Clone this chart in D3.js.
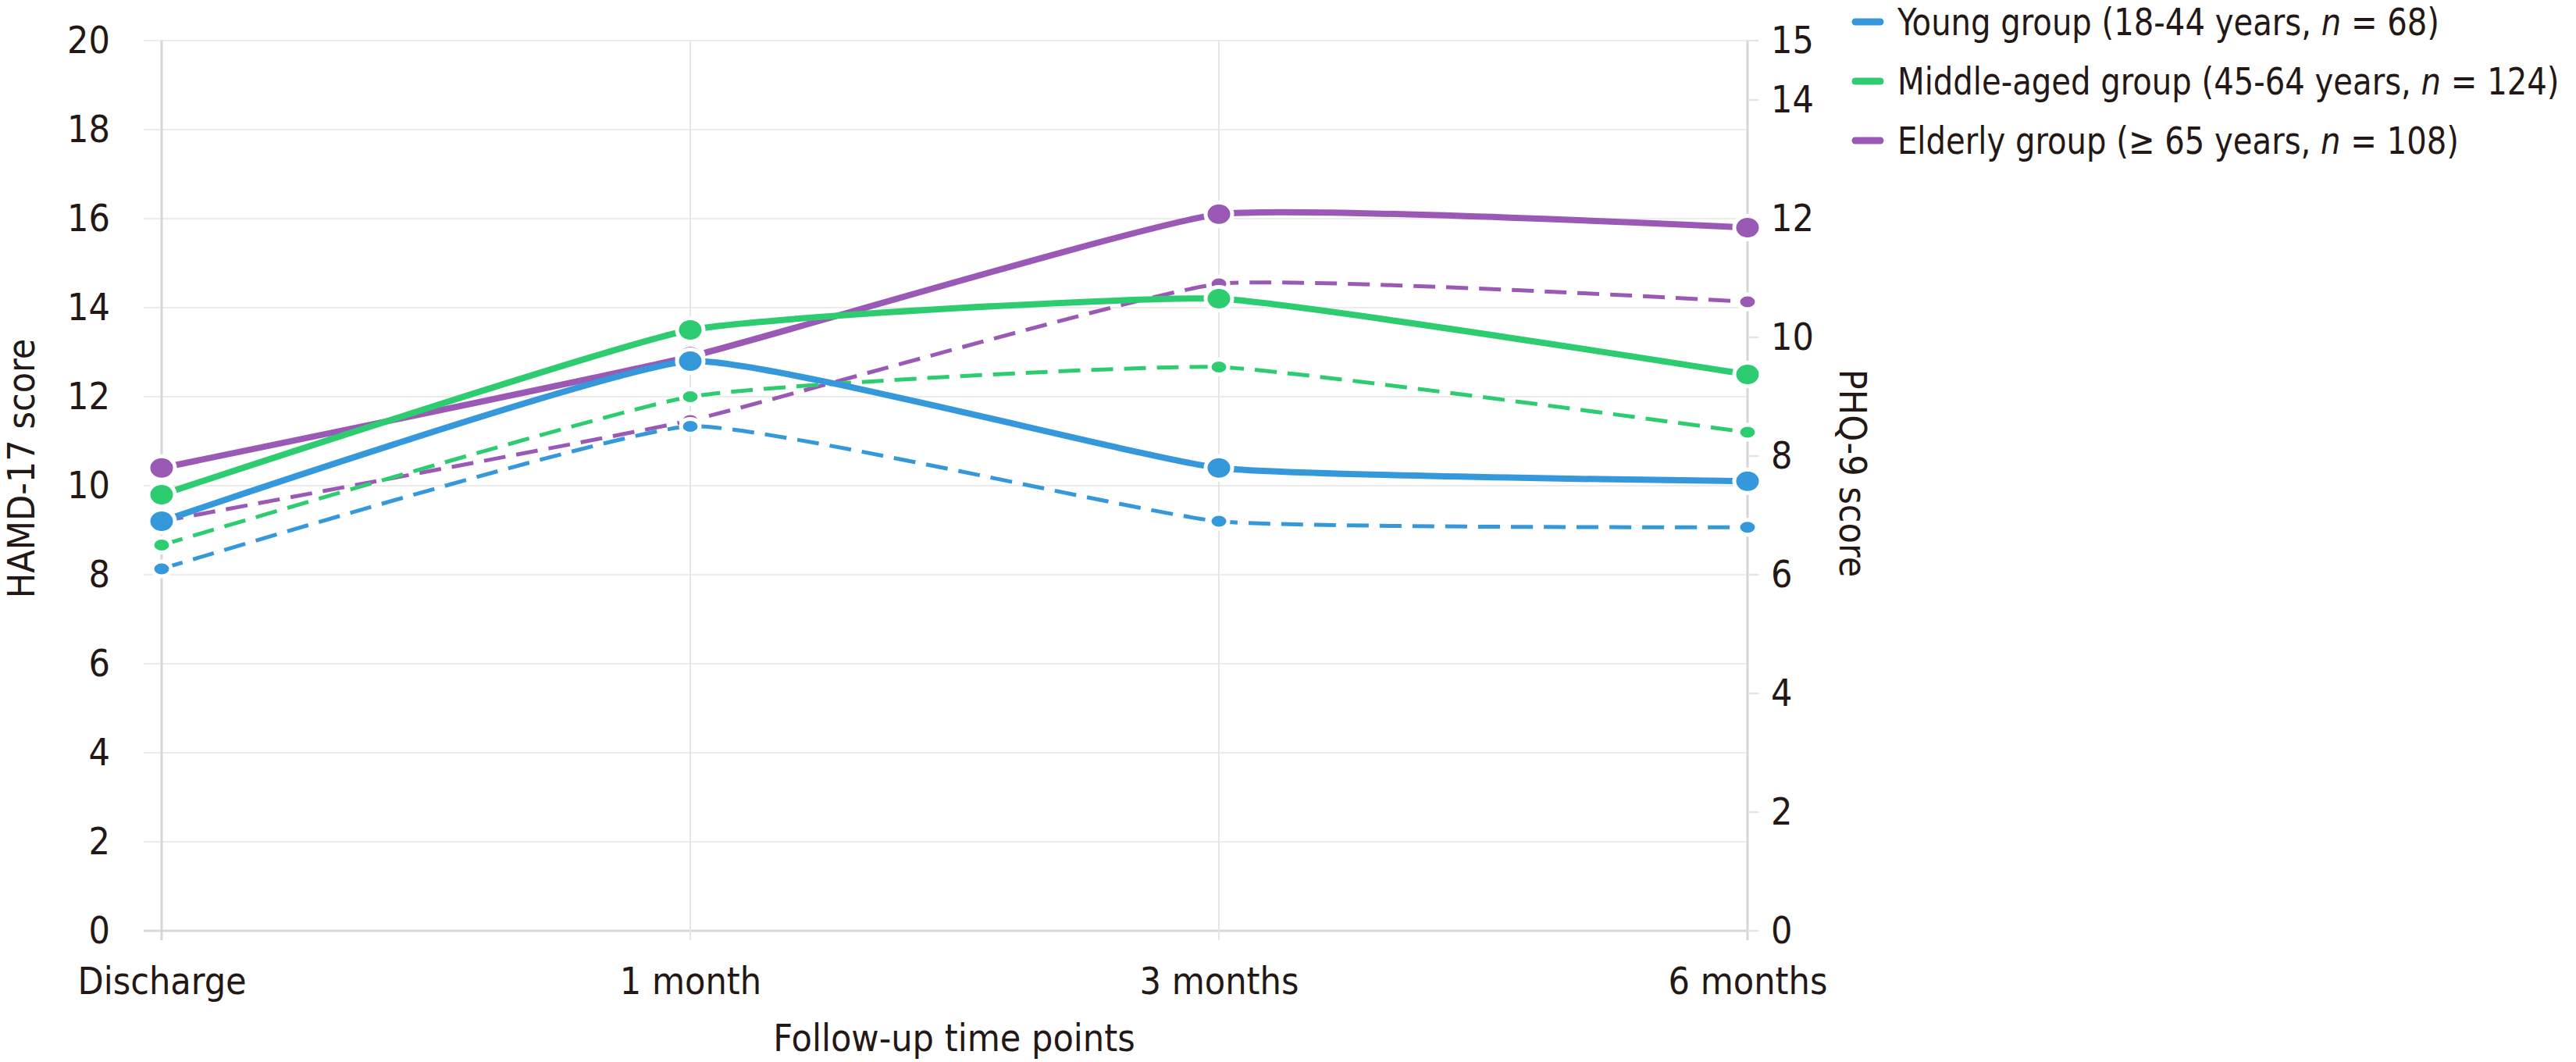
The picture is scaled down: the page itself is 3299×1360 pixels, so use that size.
<!DOCTYPE html>
<html>
<head>
<meta charset="utf-8">
<script src="https://cdn.jsdelivr.net/npm/d3@7"></script>
<style>
  body { margin: 0; background: #fff; }
  svg text { font-family: "DejaVu Sans Condensed", "DejaVu Sans", sans-serif; font-stretch: condensed; fill: #231815; }
</style>
</head>
<body>
<svg id="chart" width="3299" height="1360"></svg>
<script>
// follow-up time points
var timePoints = ["Discharge", "1 month", "3 months", "6 months"];

// HAMD-17 (left axis, solid lines)
var hamdYoung   = [9.2, 12.8, 10.4, 10.1];
var hamdMiddle  = [9.8, 13.5, 14.2, 12.5];
var hamdElderly = [10.4, 12.9, 16.1, 15.8];

// PHQ-9 (right axis, dashed lines)
var phqYoung   = [6.1, 8.5, 6.9, 6.8];
var phqMiddle  = [6.5, 9.0, 9.5, 8.4];
var phqElderly = [6.9, 8.6, 10.9, 10.6];

var groupNames  = ["Young group (18-44 years, ", "Middle-aged group (45-64 years, ", "Elderly group (\u2265 65 years, "];
var groupN      = ["68", "124", "108"];
var groupColors = ["#3498db", "#2ecc71", "#9b59b6"];

var leftTicks  = [0, 2, 4, 6, 8, 10, 12, 14, 16, 18, 20];
var rightTicks = [0, 2, 4, 6, 8, 10, 12, 14, 15];

var svg = d3.select("#chart");
var fontSize = 48;

var x = d3.scalePoint().domain(timePoints).range([207, 2238]);
var yL = d3.scaleLinear().domain([0, 20]).range([1192, 52]);
var yR = d3.scaleLinear().domain([0, 15]).range([1192, 52]);

// grid
var grid = svg.append("g");
grid.selectAll(".hgrid").data(leftTicks).enter().append("line")
	.attr("x1", 184).attr("x2", 2238)
	.attr("y1", d => yL(d)).attr("y2", d => yL(d))
	.attr("stroke", d => d === 0 ? "#d9d9d9" : "#ececec")
	.attr("stroke-width", d => d === 0 ? 3 : 2);
grid.selectAll(".vgrid").data(timePoints).enter().append("line")
	.attr("x1", d => x(d)).attr("x2", d => x(d))
	.attr("y1", yL(20)).attr("y2", yL(0) + 12)
	.attr("stroke", (d, i) => (i === 0 || i === timePoints.length - 1) ? "#d6d6d6" : "#e6e6e6")
	.attr("stroke-width", (d, i) => (i === 0 || i === timePoints.length - 1) ? 3 : 2);
grid.selectAll(".rtick").data(rightTicks).enter().append("line")
	.attr("x1", 2238).attr("x2", 2252)
	.attr("y1", d => yR(d)).attr("y2", d => yR(d))
	.attr("stroke", "#e3e3e3").attr("stroke-width", 2);

// axes (labels only)
var axL = svg.append("g").attr("transform", "translate(141,0)")
	.call(d3.axisLeft(yL).tickValues(leftTicks).tickSize(0).tickPadding(0));
var axR = svg.append("g").attr("transform", "translate(2268,0)")
	.call(d3.axisRight(yR).tickValues(rightTicks).tickSize(0).tickPadding(0));
var axB = svg.append("g").attr("transform", "translate(0,1192)")
	.call(d3.axisBottom(x).tickSize(0).tickPadding(0));
[axL, axR, axB].forEach(function(a){
	a.select(".domain").remove();
	a.selectAll("text").style("font-size", fontSize + "px").attr("fill", "#231815");
});
axB.selectAll("text").attr("y", 81).attr("dy", null);

// axis titles
svg.append("text").attr("transform", "translate(44,600) rotate(-90)")
	.attr("text-anchor", "middle").style("font-size", fontSize + "px").text("HAMD-17 score");
svg.append("text").attr("transform", "translate(2356,606) rotate(90)")
	.attr("text-anchor", "middle").style("font-size", fontSize + "px").text("PHQ-9 score");
svg.append("text").attr("x", 1222).attr("y", 1346)
	.attr("text-anchor", "middle").style("font-size", fontSize + "px").text("Follow-up time points");

// series
var dashed = [
	{vals: phqElderly, color: groupColors[2]},
	{vals: phqMiddle, color: groupColors[1]},
	{vals: phqYoung, color: groupColors[0]}
];
var solid = [
	{vals: hamdElderly, color: groupColors[2]},
	{vals: hamdMiddle, color: groupColors[1]},
	{vals: hamdYoung, color: groupColors[0]}
];

function drawSeries(list, yScale, opts){
	var line = d3.line()
		.x((d, i) => x(timePoints[i]))
		.y(d => yScale(d))
		.curve(d3.curveCardinal.tension(0.6));
	list.forEach(function(s){
		var g = svg.append("g");
		g.append("path").datum(s.vals)
			.attr("d", line)
			.attr("fill", "none")
			.attr("stroke", s.color)
			.attr("stroke-width", opts.width)
			.attr("stroke-dasharray", opts.dash);
		g.selectAll("ellipse").data(s.vals).enter().append("ellipse")
			.attr("cx", (d, i) => x(timePoints[i]))
			.attr("cy", d => yScale(d))
			.attr("rx", opts.rx).attr("ry", opts.ry)
			.attr("fill", s.color)
			.attr("stroke", "#fff").attr("stroke-width", 5);
	});
}
drawSeries(dashed, yR, {width: 5, dash: "28,14", rx: 12, ry: 9.5});
drawSeries(solid, yL, {width: 8, dash: null, rx: 17, ry: 15});

// legend
var legend = svg.append("g");
groupNames.forEach(function(name, i){
	var yy = 28 + i * 76;
	legend.append("line")
		.attr("x1", 2376).attr("x2", 2408).attr("y1", yy).attr("y2", yy)
		.attr("stroke", groupColors[i]).attr("stroke-width", 9).attr("stroke-linecap", "round");
	var t = legend.append("text")
		.attr("transform", "translate(2430," + (yy + 17) + ") scale(0.93,1)")
		.style("font-size", fontSize + "px");
	t.append("tspan").text(name);
	t.append("tspan").style("font-style", "italic").text("n");
	t.append("tspan").text(" = " + groupN[i] + ")");
});
</script>
</body>
</html>
